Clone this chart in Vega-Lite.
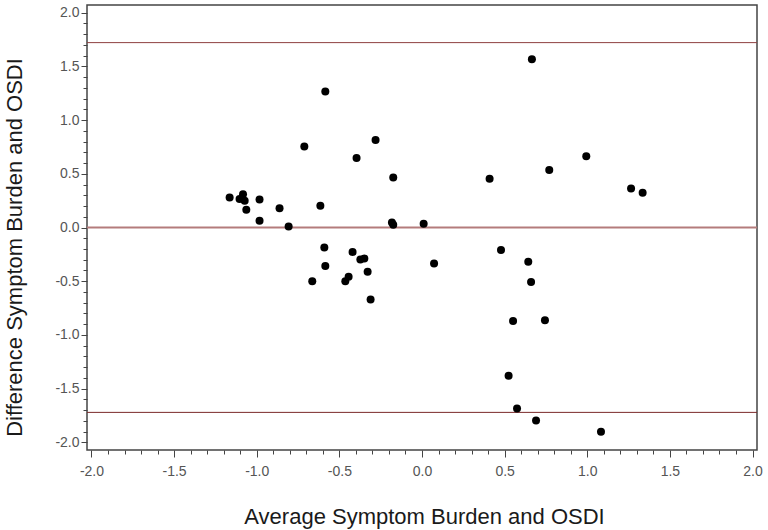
{
  "$schema": "https://vega.github.io/schema/vega-lite/v6.json",
  "width": 670,
  "height": 445,
  "autosize": {"type": "none"},
  "padding": {"left": 87, "top": 5, "right": 11, "bottom": 80},
  "background": "white",
  "config": {
    "view": {"stroke": "#444444", "strokeWidth": 1.5},
    "font": "Liberation Sans",
    "axis": {"grid": false, "domain": false, "labelFont": "Liberation Sans", "titleFont": "Liberation Sans", "labelColor": "#555555", "tickColor": "#444444", "titleColor": "#1a1a1a", "titleFontWeight": "normal", "labelOverlap": false, "labelFlush": false, "labelBound": false}
  },
  "datasets": {
    "pts": [
      {"avg": -1.164, "diff": 0.279},
      {"avg": -1.104, "diff": 0.264},
      {"avg": -1.083, "diff": 0.31},
      {"avg": -1.073, "diff": 0.248},
      {"avg": -1.063, "diff": 0.165},
      {"avg": -0.983, "diff": 0.26},
      {"avg": -0.983, "diff": 0.062},
      {"avg": -0.862, "diff": 0.18},
      {"avg": -0.807, "diff": 0.009},
      {"avg": -0.585, "diff": 1.265},
      {"avg": -0.712, "diff": 0.753},
      {"avg": -0.396, "diff": 0.646},
      {"avg": -0.281, "diff": 0.813},
      {"avg": -0.174, "diff": 0.465},
      {"avg": -0.615, "diff": 0.202},
      {"avg": -0.182, "diff": 0.047},
      {"avg": -0.174, "diff": 0.025},
      {"avg": 0.01, "diff": 0.034},
      {"avg": 0.409, "diff": 0.453},
      {"avg": 0.665, "diff": 1.566},
      {"avg": 0.77, "diff": 0.534},
      {"avg": 0.994, "diff": 0.664},
      {"avg": 1.265, "diff": 0.363},
      {"avg": 1.335, "diff": 0.323},
      {"avg": -0.591, "diff": -0.186},
      {"avg": -0.585, "diff": -0.359},
      {"avg": -0.664, "diff": -0.499},
      {"avg": -0.42, "diff": -0.229},
      {"avg": -0.373, "diff": -0.298},
      {"avg": -0.349, "diff": -0.288},
      {"avg": -0.329, "diff": -0.412},
      {"avg": -0.464, "diff": -0.499},
      {"avg": -0.444, "diff": -0.459},
      {"avg": -0.311, "diff": -0.67},
      {"avg": 0.073, "diff": -0.335},
      {"avg": 0.478, "diff": -0.21},
      {"avg": 0.643, "diff": -0.319},
      {"avg": 0.66, "diff": -0.508},
      {"avg": 0.551, "diff": -0.871},
      {"avg": 0.744, "diff": -0.862},
      {"avg": 0.524, "diff": -1.38},
      {"avg": 0.575, "diff": -1.684},
      {"avg": 0.69, "diff": -1.795},
      {"avg": 1.083, "diff": -1.9}
    ]
  },
  "layer": [
    {
      "data": {"name": "pts"},
      "mark": {"type": "circle", "color": "black", "opacity": 0, "size": 64},
      "encoding": {
        "x": {"field": "avg", "type": "quantitative",
          "scale": {"domain": [-2.027, 2.027], "nice": false, "zero": false},
          "axis": {"values": [-2, -1.9, -1.8, -1.7, -1.6, -1.5, -1.4, -1.3, -1.2, -1.1, -1, -0.9, -0.8, -0.7, -0.6, -0.5, -0.4, -0.3, -0.2, -0.1, 0, 0.1, 0.2, 0.3, 0.4, 0.5, 0.6, 0.7, 0.8, 0.9, 1, 1.1, 1.2, 1.3, 1.4, 1.5, 1.6, 1.7, 1.8, 1.9, 2],
            "tickCount": 200,
            "labelExpr": "abs(datum.value*2 - round(datum.value*2)) < 0.001 ? replace(format(datum.value, '.1f'), '\u2212', '-') : ''",
            "tickSize": {"condition": {"test": "abs(datum.value*2 - round(datum.value*2)) < 0.001", "value": 7}, "value": 4},
            "labelFontSize": 14, "labelPadding": 7,
            "title": "Average Symptom Burden and OSDI", "titleFontSize": 22,
            "titleBaseline": "alphabetic", "titleY": 73, "titleX": 337, "titleAnchor": "middle", "titleAlign": "center"}},
        "y": {"field": "diff", "type": "quantitative",
          "scale": {"domain": [-2.07, 2.07], "nice": false, "zero": false},
          "axis": {"values": [-2, -1.9, -1.8, -1.7, -1.6, -1.5, -1.4, -1.3, -1.2, -1.1, -1, -0.9, -0.8, -0.7, -0.6, -0.5, -0.4, -0.3, -0.2, -0.1, 0, 0.1, 0.2, 0.3, 0.4, 0.5, 0.6, 0.7, 0.8, 0.9, 1, 1.1, 1.2, 1.3, 1.4, 1.5, 1.6, 1.7, 1.8, 1.9, 2],
            "tickCount": 200,
            "labelExpr": "abs(datum.value*2 - round(datum.value*2)) < 0.001 ? replace(format(datum.value, '.1f'), '\u2212', '-') : ''",
            "tickSize": {"condition": {"test": "abs(datum.value*2 - round(datum.value*2)) < 0.001", "value": 6}, "value": 4},
            "labelFontSize": 14, "labelPadding": 2,
            "title": "Difference Symptom Burden and OSDI", "titleFontSize": 22,
            "titleBaseline": "alphabetic", "titleX": -66, "titleY": 242, "titleAngle": -90, "titleAlign": "center"}}
      }
    },
    {
      "data": {"values": [{"y": 1.72}]},
      "mark": {"type": "rule", "color": "#8e4040", "strokeWidth": 1},
      "encoding": {"y": {"field": "y", "type": "quantitative"}}
    },
    {
      "data": {"values": [{"y": 0}]},
      "mark": {"type": "rule", "color": "#b47c7c", "strokeWidth": 2},
      "encoding": {"y": {"field": "y", "type": "quantitative"}}
    },
    {
      "data": {"values": [{"y": -1.72}]},
      "mark": {"type": "rule", "color": "#7a2a2a", "strokeWidth": 1},
      "encoding": {"y": {"field": "y", "type": "quantitative"}}
    },
    {
      "data": {"name": "pts"},
      "mark": {"type": "circle", "color": "black", "opacity": 1, "size": 64},
      "encoding": {
        "x": {"field": "avg", "type": "quantitative"},
        "y": {"field": "diff", "type": "quantitative"}
      }
    }
  ]
}
